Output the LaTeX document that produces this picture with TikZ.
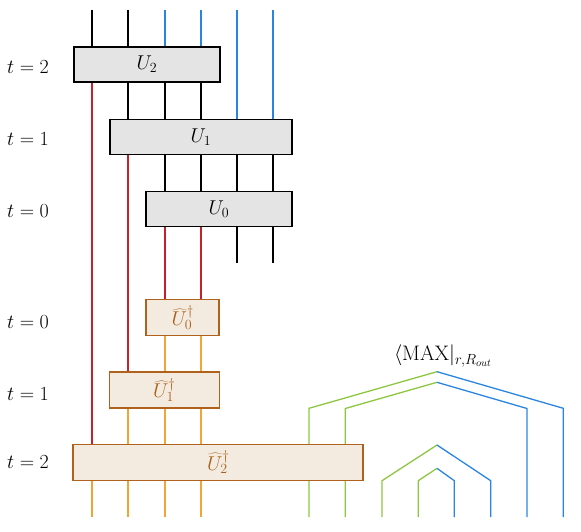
\RequirePackage{fix-cm}
\documentclass[tikz,border=0pt]{standalone}
\usetikzlibrary{backgrounds}
\definecolor{boxgray}{HTML}{E4E4E4}
\definecolor{beige}{HTML}{F4EBE0}
\definecolor{brownb}{HTML}{B0621C}
\definecolor{browntxt}{HTML}{A8601A}
\definecolor{orangew}{HTML}{F2A535}
\definecolor{redw}{HTML}{C8202A}
\definecolor{bluew}{HTML}{2A85E0}
\definecolor{greenw}{HTML}{8DC63F}
\tikzset{
  bigf/.style={font=\fontsize{20}{24}\selectfont},
  ubox/.style={draw=black, fill=boxgray, line width=1.4pt, minimum height=35pt, inner sep=0pt, bigf},
  dbox/.style={draw=brownb, fill=beige, line width=1.5pt, minimum height=36pt, inner sep=0pt, text=browntxt, bigf},
  tlab/.style={anchor=west, inner sep=0pt, bigf},
  wire/.style={line width=1.3pt},
  bw/.style={wire, black},
  rw/.style={wire, redw},
  ow/.style={wire, orangew},
  gw/.style={wire, greenw},
  blw/.style={wire, bluew},
}
\begin{document}
\begin{tikzpicture}[x=1pt, y=-1pt]
\useasboundingbox (0,0) rectangle (581,532);
% wire positions
\foreach \n/\x in {1/92,2/128,3/165,4/201,5/237,6/273}{
  \coordinate (t\n) at (\x,10);
  \coordinate (b\n) at (\x,517);
}
\coordinate (e5) at (237,263);
\coordinate (e6) at (273,263);
% boxes
\node[ubox, minimum width=146pt] (U2) at (147,64.5) {$U_2$};
\node[ubox, minimum width=182pt] (U1) at (201,137) {$U_1$};
\node[ubox, minimum width=146pt] (U0) at (219,209) {$U_0$};
\node[dbox, minimum width=73pt] (D0) at (182.7,317.7) {${\widehat{U}}_0^{\dagger}$};
\node[dbox, minimum width=110pt] (D1) at (164.3,390) {${\widehat{U}}_1^{\dagger}$};
\node[dbox, minimum width=290pt] (D2) at (218.2,462.3) {${\widehat{U}}_2^{\dagger}$};
% time labels
\node[tlab] (l1) at (7,67) {$t = 2$};
\node[tlab] (l2) at (7,139) {$t = 1$};
\node[tlab] (l3) at (7,211) {$t = 0$};
\node[tlab] (l4) at (7,322) {$t = 0$};
\node[tlab] (l5) at (7,394) {$t = 1$};
\node[tlab] (l6) at (7,462) {$t = 2$};
% MAX label
\node[font=\fontsize{21}{25}\selectfont, inner sep=0pt] (mx) at (443,356) {$\langle\mathrm{MAX}|_{r,R_{out}}$};
% cap coordinates
\coordinate (g1) at (309,517); \coordinate (g1c) at (309,408.3);
\coordinate (g2) at (345.3,517); \coordinate (g2c) at (345.3,408.5);
\coordinate (g3) at (382,517); \coordinate (g3c) at (382,480.7);
\coordinate (g4) at (418.3,517); \coordinate (g4c) at (418.3,480.7);
\coordinate (a1) at (437,371.7);
\coordinate (a2) at (437,382.3);
\coordinate (a3) at (437,445);
\coordinate (a4) at (437,468.3);
\coordinate (k4c) at (454.3,480.7); \coordinate (k4) at (454.3,517);
\coordinate (k3c) at (490.7,480.7); \coordinate (k3) at (490.7,517);
\coordinate (k2c) at (527,408.5); \coordinate (k2) at (527,517);
\coordinate (k1c) at (563.3,408.3); \coordinate (k1) at (563.3,517);
\begin{scope}[on background layer]
% top inputs into U2
\draw[bw] (t1) -- (U2.north -| t1);
\draw[bw] (t2) -- (U2.north -| t2);
\draw[blw] (t3) -- (U2.north -| t3);
\draw[blw] (t4) -- (U2.north -| t4);
\draw[blw] (t5) -- (U1.north -| t5);
\draw[blw] (t6) -- (U1.north -| t6);
% U2 -> U1
\draw[bw] (U2.south -| t2) -- (U1.north -| t2);
\draw[bw] (U2.south -| t3) -- (U1.north -| t3);
\draw[bw] (U2.south -| t4) -- (U1.north -| t4);
% U1 -> U0
\draw[bw] (U1.south -| t3) -- (U0.north -| t3);
\draw[bw] (U1.south -| t4) -- (U0.north -| t4);
\draw[bw] (U1.south -| t5) -- (U0.north -| t5);
\draw[bw] (U1.south -| t6) -- (U0.north -| t6);
% U0 outputs
\draw[bw] (U0.south -| t5) -- (e5);
\draw[bw] (U0.south -| t6) -- (e6);
% red wires
\draw[rw] (U2.south -| t1) -- (D2.north -| t1);
\draw[rw] (U1.south -| t2) -- (D1.north -| t2);
\draw[rw] (U0.south -| t3) -- (D0.north -| t3);
\draw[rw] (U0.south -| t4) -- (D0.north -| t4);
% orange wires
\draw[ow] (D0.south -| t3) -- (D1.north -| t3);
\draw[ow] (D0.south -| t4) -- (D1.north -| t4);
\draw[ow] (D1.south -| t2) -- (D2.north -| t2);
\draw[ow] (D1.south -| t3) -- (D2.north -| t3);
\draw[ow] (D1.south -| t4) -- (D2.north -| t4);
\draw[ow] (D2.south -| t1) -- (b1);
\draw[ow] (D2.south -| t2) -- (b2);
\draw[ow] (D2.south -| t3) -- (b3);
\draw[ow] (D2.south -| t4) -- (b4);
% caps
\draw[gw] (g1) -- (g1c) -- (a1);
\draw[blw] (a1) -- (k1c) -- (k1);
\draw[gw] (g2) -- (g2c) -- (a2);
\draw[blw] (a2) -- (k2c) -- (k2);
\draw[gw] (g3) -- (g3c) -- (a3);
\draw[blw] (a3) -- (k3c) -- (k3);
\draw[gw] (g4) -- (g4c) -- (a4);
\draw[blw] (a4) -- (k4c) -- (k4);
\end{scope}
\end{tikzpicture}
\end{document}
